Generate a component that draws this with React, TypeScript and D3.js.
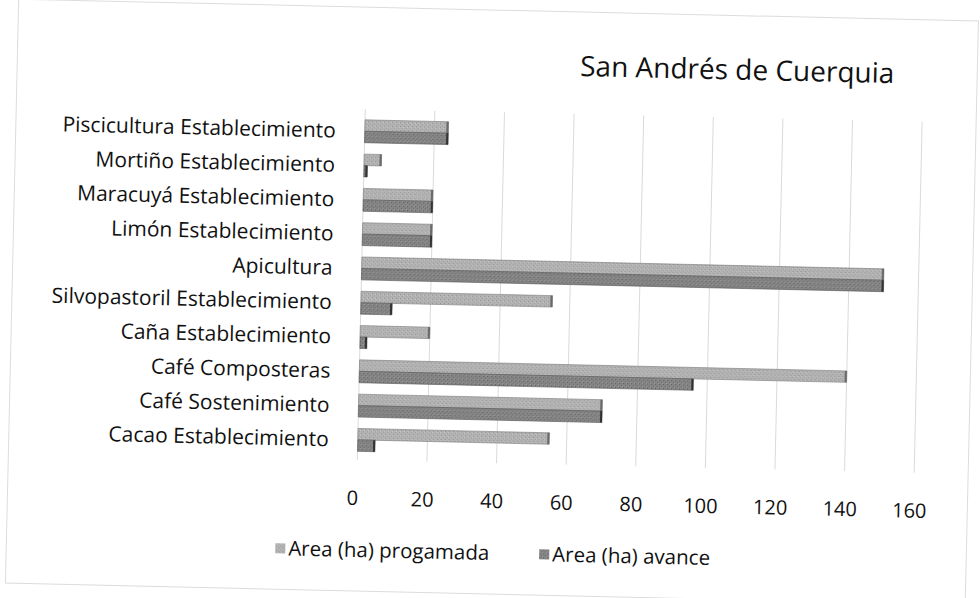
import * as d3 from 'd3';

const categories = [
  'Cacao Establecimiento',
  'Café Sostenimiento',
  'Café Composteras',
  'Caña Establecimiento',
  'Silvopastoril Establecimiento',
  'Apicultura',
  'Limón Establecimiento',
  'Maracuyá Establecimiento',
  'Mortiño Establecimiento',
  'Piscicultura Establecimiento',
];
const programada = [55, 70, 140, 20, 55, 150, 20, 20, 5, 24];
const avance = [5, 70, 96, 2, 9, 150, 20, 20, 1, 24];
const xTicks = [0, 20, 40, 60, 80, 100, 120, 140, 160];
const seriesNames = ['Area (ha) progamada', 'Area (ha) avance'];

const W = 980;
const H = 598;
const FONT = '"Open Sans", "Noto Sans", sans-serif';

export default function App() {
  const x = d3.scaleLinear().domain([0, 160]).range([361, 918]);
  const y = d3.scaleBand().domain([...categories].reverse()).range([117, 460]);
  const inner = d3.scaleBand().domain(['p', 'a']).range([0, y.bandwidth()]).paddingOuter(0.5).paddingInner(0);

  const rows = categories.map((c, i) => ({ c, p: programada[i], a: avance[i] }));

  return (
    <svg width={W} height={H} style={{ position: 'absolute', left: 0, top: 0, background: '#fff' }}>
      <defs>
        <pattern id="texLight" width="4" height="4" patternUnits="userSpaceOnUse">
          <rect width="4" height="4" fill="#b3b3b3" />
          <rect x="0" y="0" width="1" height="1" fill="#8e8e8e" />
          <rect x="2" y="2" width="1" height="1" fill="#9a9a9a" />
          <rect x="3" y="1" width="1" height="1" fill="#c8c8c8" />
        </pattern>
        <pattern id="texDark" width="4" height="4" patternUnits="userSpaceOnUse">
          <rect width="4" height="4" fill="#858585" />
          <rect x="1" y="0" width="1" height="1" fill="#5c5c5c" />
          <rect x="3" y="2" width="1" height="1" fill="#6a6a6a" />
          <rect x="0" y="3" width="1" height="1" fill="#a0a0a0" />
        </pattern>
      </defs>
      <g transform="rotate(1.3 490 299)">
        <rect x={12} y={10} width={960} height={584} fill="none" stroke="#dcdcdc" strokeWidth={1} />

        <text x={732} y={74} textAnchor="middle" fontFamily={FONT} fontSize={28} fill="#111">
          San Andrés de Cuerquia
        </text>

        {xTicks.map(t => (
          <line key={t} x1={x(t)} x2={x(t)} y1={112} y2={463} stroke="#dadada" strokeWidth={1} />
        ))}

        {rows.map(r => {
          const y0 = y(r.c) as number;
          return (
            <g key={r.c}>
              <rect x={x(0)} y={y0 + (inner('p') as number)} width={x(r.p) - x(0)} height={inner.bandwidth()}
                fill="url(#texLight)" stroke="#7a7a7a" strokeWidth={0.6} />
              <rect x={x(r.p) - 2} y={y0 + (inner('p') as number)} width={2} height={inner.bandwidth()} fill="#6a6a6a" />
              <rect x={x(0)} y={y0 + (inner('a') as number)} width={x(r.a) - x(0)} height={inner.bandwidth()}
                fill="url(#texDark)" stroke="#555" strokeWidth={0.6} />
              <rect x={x(r.a) - 2} y={y0 + (inner('a') as number)} width={2} height={inner.bandwidth()} fill="#333" />
              <text x={332} y={y0 + y.bandwidth() / 2 + 7} textAnchor="end" fontFamily={FONT} fontSize={21} fill="#111">
                {r.c}
              </text>
            </g>
          );
        })}

        {xTicks.map(t => (
          <text key={t} x={x(t) - 4} y={508} textAnchor="middle" fontFamily={FONT} fontSize={20} fill="#111">
            {t}
          </text>
        ))}

        {seriesNames.map((s, i) => {
          const lx = i === 0 ? 281 : 545;
          return (
            <g key={s}>
              <rect x={lx} y={548} width={10} height={10} fill={i === 0 ? 'url(#texLight)' : 'url(#texDark)'} />
              <text x={lx + 13} y={560} fontFamily={FONT} fontSize={20.5} fill="#111">{s}</text>
            </g>
          );
        })}
      </g>
    </svg>
  );
}
